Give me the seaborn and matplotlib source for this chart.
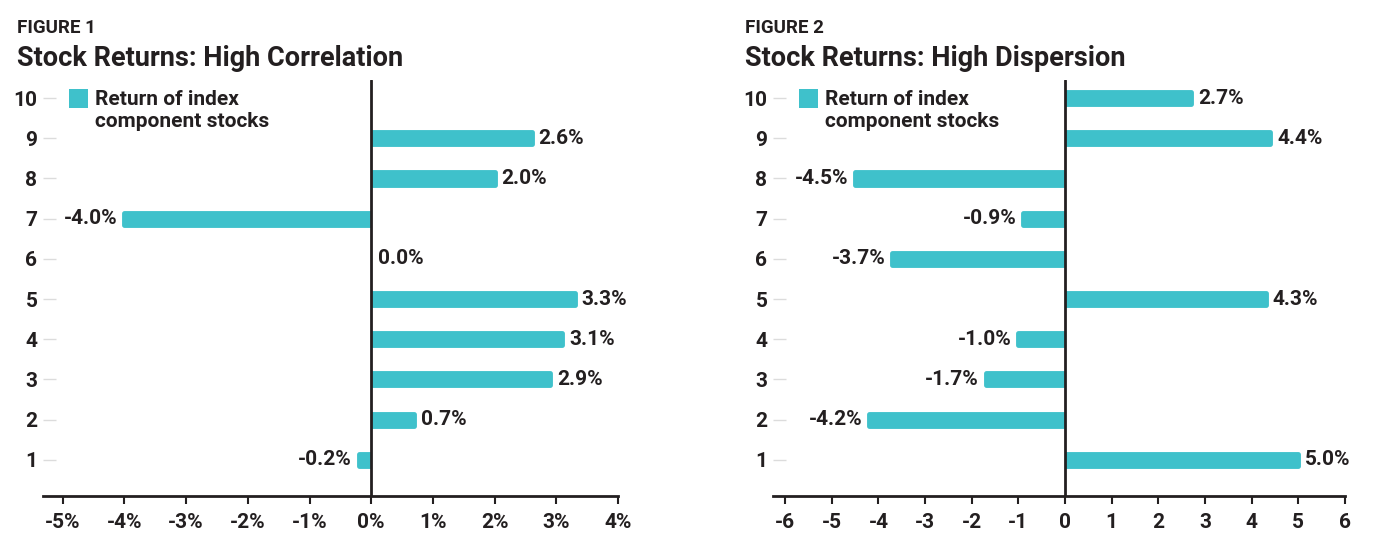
import numpy as np
import pandas as pd
import matplotlib
matplotlib.use("Agg")
import matplotlib.pyplot as plt
import seaborn as sns
from matplotlib.patches import Patch, Rectangle
from matplotlib.legend_handler import HandlerPatch

# ---- data ----
stocks = [10, 9, 8, 7, 6, 5, 4, 3, 2, 1]
returns_corr = [np.nan, 2.6, 2.0, -4.0, 0.0, 3.3, 3.1, 2.9, 0.7, -0.2]
returns_disp = [2.7, 4.4, -4.5, -0.9, -3.7, 4.3, -1.0, -1.7, -4.2, 5.0]
fig_labels = ["FIGURE 1", "FIGURE 2"]
titles = ["Stock Returns: High Correlation", "Stock Returns: High Dispersion"]
xticks_corr = [-5, -4, -3, -2, -1, 0, 1, 2, 3, 4]
xticklabels_corr = [f"{v}%" for v in xticks_corr]
xticks_disp = [-6, -5, -4, -3, -2, -1, 0, 1, 2, 3, 4, 5, 6]
xticklabels_disp = [str(v) for v in xticks_disp]
legend_label = "Return of index\ncomponent stocks"

TEAL = "#3fc1cb"
DARK = "#231f20"
FONT = ["Roboto", "DejaVu Sans"]
FS = 15

sns.set_theme(style="white")
plt.rcParams["font.family"] = FONT
plt.rcParams["font.weight"] = "bold"

fig = plt.figure(figsize=(13.8, 5.48), dpi=100)
ax1 = fig.add_axes([43/1380, 1-496/548, (618-43)/1380, (496-80)/548])
ax2 = fig.add_axes([773/1380, 1-496/548, (1345-773)/1380, (496-80)/548])


def top_square(legend, orig_handle, xdescent, ydescent, width, height, fontsize):
    size = 0.92 * fontsize
    return Rectangle((-xdescent, -ydescent + height - size + 0.62 * fontsize), size, size)


def draw(ax, vals, xticks, xticklabels, xlim, figlabel, title, x0):
    df = pd.DataFrame({"stock": [str(s) for s in stocks], "ret": vals})
    sns.barplot(data=df, x="ret", y="stock", order=[str(s) for s in stocks],
                orient="h", color=TEAL, width=0.3, ax=ax, saturation=1)
    for p in ax.patches:
        w = p.get_width()
        if abs(w) < 1e-9:
            p.set_visible(False)
            continue
        p.set_edgecolor(TEAL)
        p.set_linewidth(3.5)
        p.set_joinstyle("round")
        # keep the bar on its own side of the zero line
        side = Rectangle((0, -5), 100 if w > 0 else -100, 30, transform=ax.transData)
        p.set_clip_path(side)
    ax.axvline(0, color=DARK, lw=2, zorder=5)
    ax.set_xlim(*xlim)
    ax.set_ylim(9.9, -0.45)
    ax.set_xticks(xticks)
    ax.set_xticklabels(xticklabels)
    ax.set_xlabel("")
    ax.set_ylabel("")
    for s in ["top", "right", "left"]:
        ax.spines[s].set_visible(False)
    ax.spines["bottom"].set_color(DARK)
    ax.spines["bottom"].set_linewidth(2)
    ax.tick_params(axis="x", bottom=True, direction="out", length=6, width=1.5, color=DARK,
                   labelsize=FS, labelcolor=DARK, pad=6)
    ax.tick_params(axis="y", left=True, direction="in", length=9, width=1, color="#dcdcdc",
                   labelsize=FS, labelcolor=DARK, pad=4)
    for lbl in ax.get_xticklabels() + ax.get_yticklabels():
        lbl.set_fontweight("bold")
    ax.grid(False)
    for i, v in enumerate(vals):
        if np.isnan(v):
            continue
        if v < 0:
            ax.annotate(f"{v:.1f}%", (v, i), xytext=(-5, 0), textcoords="offset points",
                        ha="right", va="center", fontsize=FS, fontweight="bold", color=DARK)
        else:
            ax.annotate(f"{v:.1f}%", (v, i), xytext=(5, 0), textcoords="offset points",
                        ha="left", va="center", fontsize=FS, fontweight="bold", color=DARK)
    ax.legend([Patch(facecolor=TEAL, edgecolor="none")], [legend_label],
              loc="upper left", bbox_to_anchor=(0.012, 1.022), frameon=False,
              handlelength=0.92, handleheight=0.92, handletextpad=0.35,
              handler_map={Patch: HandlerPatch(patch_func=top_square)},
              prop={"family": FONT, "weight": "bold", "size": FS},
              labelcolor=DARK, labelspacing=0.2)
    fig.text(x0/1380, 1-33/548, figlabel, fontsize=13.5, fontweight="bold", color=DARK,
             ha="left", va="baseline")
    fig.text(x0/1380, 1-66/548, title, fontsize=19.5, fontweight="bold", color=DARK,
             ha="left", va="baseline")

draw(ax1, returns_corr, xticks_corr, xticklabels_corr, (-5.32, 4.0),
     fig_labels[0], titles[0], 17)
draw(ax2, returns_disp, xticks_disp, xticklabels_disp, (-6.26, 6.0),
     fig_labels[1], titles[1], 745)

fig.savefig("out.png", dpi=100, facecolor="white")
